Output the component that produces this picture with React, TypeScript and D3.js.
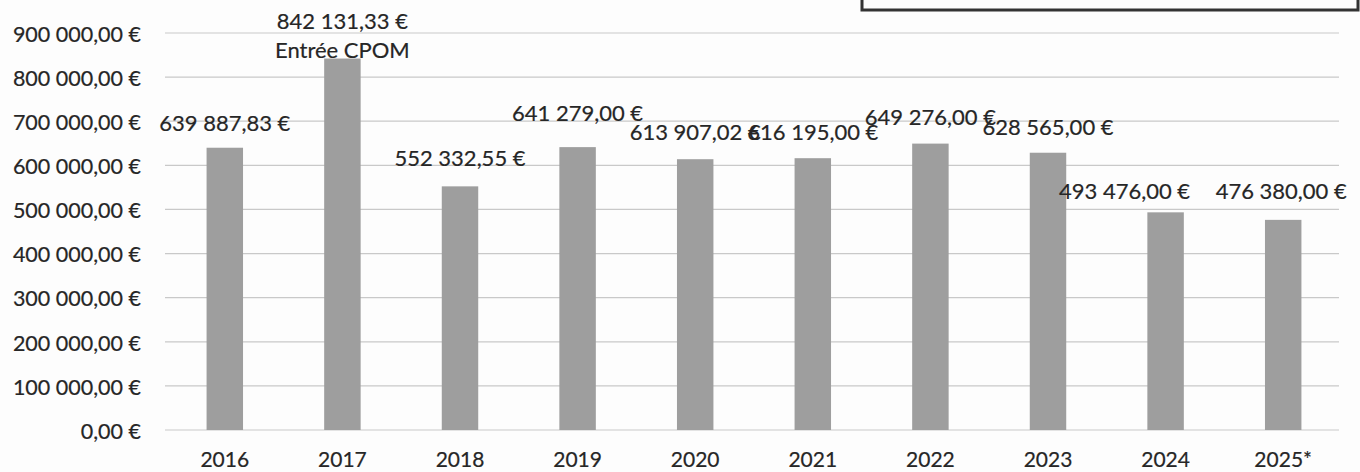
import React, { useEffect, useRef } from 'react'
import * as d3 from 'd3'

const years = ['2016', '2017', '2018', '2019', '2020', '2021', '2022', '2023', '2024', '2025*']
const amounts = [639887.83, 842131.33, 552332.55, 641279.0, 613907.02, 616195.0, 649276.0, 628565.0, 493476.0, 476380.0]
const notes = ['', 'Entrée CPOM', '', '', '', '', '', '', '', '']
const yTicks = [0, 100000, 200000, 300000, 400000, 500000, 600000, 700000, 800000, 900000]

// manual nudges of the data labels (dx, dy), as dragged in the source sheet
const labelNudge: [number, number][] = [
  [0, 2], [0, 0], [0, -1], [0, -7], [0, 0], [0, 1], [0, 0], [0, 1], [-41, 6], [-2, -2],
]

const fmt = (v: number) => {
  const [int, dec] = v.toFixed(2).split('.')
  return `${int.replace(/\B(?=(\d{3})+(?!\d))/g, ' ')},${dec} €`
}

export default function App() {
  const svgRef = useRef<SVGSVGElement>(null)
  const width = 1360
  const height = 472

  useEffect(() => {
    if (!svgRef.current) return
    const svg = d3.select(svgRef.current)
    svg.selectAll('*').remove()

    const font = 'Lato, "Open Sans", sans-serif'
    const ink = '#262626'

    svg.append('rect').attr('width', width).attr('height', height).attr('fill', '#fdfdfd')

    // frame of the boxed note cut off at the top right
    svg.append('rect')
      .attr('x', 862).attr('y', -20).attr('width', 496).attr('height', 30)
      .attr('fill', 'none').attr('stroke', '#333').attr('stroke-width', 3)

    const x = d3.scaleBand().domain(years).range([166, 1342]).paddingInner(0.69).paddingOuter(0.345)
    const y = d3.scaleLinear().domain([0, 900000]).range([430, 33])

    // gridlines
    svg.selectAll('.grid')
      .data(yTicks)
      .enter()
      .append('line')
      .attr('x1', 165).attr('x2', 1339)
      .attr('y1', d => y(d)).attr('y2', d => y(d))
      .attr('stroke', '#c9c9c9').attr('stroke-width', 1.2)

    const textStyle = (sel: d3.Selection<any, any, any, any>, size: number) =>
      sel.attr('font-family', font).attr('font-size', size).attr('fill', ink)
        .attr('stroke', ink).attr('stroke-width', 0.2)

    // y tick labels
    svg.selectAll('.ytick')
      .data(yTicks)
      .enter()
      .append('text')
      .attr('x', 141).attr('y', d => y(d) + 1).attr('dy', '0.36em')
      .attr('text-anchor', 'end')
      .call(s => textStyle(s, 21.5))
      .text(d => fmt(d))

    // bars
    svg.selectAll('.bar')
      .data(amounts)
      .enter()
      .append('rect')
      .attr('x', (_, i) => x(years[i])!)
      .attr('width', x.bandwidth())
      .attr('y', d => y(d))
      .attr('height', d => y(0) - y(d))
      .attr('fill', '#9e9e9e')

    // year labels
    svg.selectAll('.xtick')
      .data(years)
      .enter()
      .append('text')
      .attr('x', d => x(d)! + x.bandwidth() / 2).attr('y', 459).attr('dy', '0.36em')
      .attr('text-anchor', 'middle')
      .call(s => textStyle(s, 21))
      .text(d => d)

    // data labels
    amounts.forEach((v, i) => {
      const cx = x(years[i])! + x.bandwidth() / 2 + labelNudge[i][0]
      const top = y(v)
      const g = svg.append('g').attr('text-anchor', 'middle').call(s => textStyle(s, 22))
      if (notes[i]) {
        g.append('text').attr('x', cx).attr('y', top - 37 + labelNudge[i][1]).attr('dy', '0.36em').text(fmt(v))
        g.append('text').attr('x', cx).attr('y', top - 8 + labelNudge[i][1]).attr('dy', '0.36em').text(notes[i])
      } else {
        g.append('text').attr('x', cx).attr('y', top - 27 + labelNudge[i][1]).attr('dy', '0.36em').text(fmt(v))
      }
    })
  }, [])

  return (
    <div style={{ position: 'fixed', left: 0, top: 0, width, height, overflow: 'hidden', background: '#fff' }}>
      <svg ref={svgRef} width={width} height={height} style={{ display: 'block' }} />
    </div>
  )
}
